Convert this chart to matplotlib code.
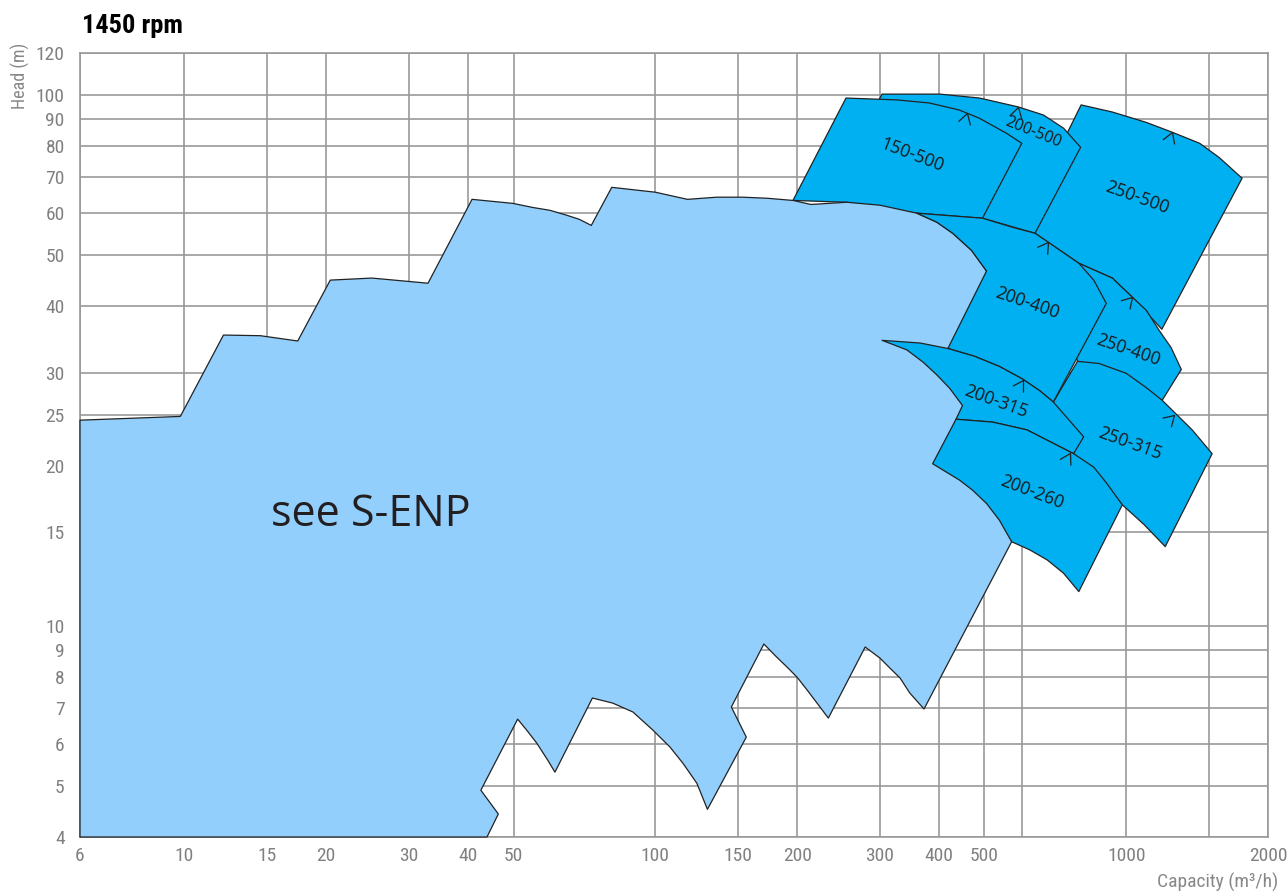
import os
import matplotlib
matplotlib.use('Agg')
import matplotlib.pyplot as plt
from matplotlib import font_manager
from matplotlib.font_manager import FontProperties
from matplotlib.patches import Polygon
from matplotlib.path import Path
from matplotlib.markers import MarkerStyle
from matplotlib.transforms import Affine2D
from matplotlib.ticker import NullLocator

# capacity Q (m3/h) / head H (m) outlines
enp_q = [6, 6, 9.8, 12.1, 14.5, 17.4, 20.4, 25, 32.9, 40.8, 49.8, 54.9, 59.7, 64.7, 69.0, 73.1, 80.8, 100, 117,
         135.1, 153, 172.9, 196, 214, 255, 300, 359, 396, 428, 469, 505,
         571, 372, 347, 331, 315, 300, 279, 233, 220.5, 210, 200, 190.4, 181, 170, 145, 156,
         129, 122.5, 114.4, 107.4, 98.8, 89.6, 81.2, 73.5,
         61.2, 59.1, 56.0, 53.3, 51.0, 42.6, 46.4, 43.9]
enp_h = [4, 24.4, 24.8, 35.3, 35.2, 34.4, 44.8, 45.2, 44.2, 63.6, 62.5, 61.4, 60.65, 59.4, 58.3, 56.8, 67.0, 65.6, 63.6,
         64.2, 64.2, 63.9, 63.3, 62.2, 62.8, 62.0, 59.9, 57.6, 54.9, 51.0, 46.6,
         14.4, 6.97, 7.47, 7.97, 8.32, 8.69, 9.12, 6.70, 7.15, 7.57, 8.0, 8.36, 8.73, 9.24, 7.03, 6.17,
         4.51, 5.05, 5.51, 5.91, 6.36, 6.88, 7.15, 7.31,
         5.30, 5.58, 6.01, 6.36, 6.67, 4.90, 4.42, 4]

q_250_500 = [802, 934, 1103, 1252, 1432, 1574, 1762, 1190, 1030, 934, 793, 640, 724]
h_250_500 = [95.8, 92.9, 88.8, 85.1, 81.1, 76.3, 69.7, 36.2, 41.6, 45.2, 48.2, 54.9, 79.7]

q_200_500 = [303, 402, 488, 589, 667, 736, 800, 640, 495, 235]
h_200_500 = [100.4, 100.4, 98.7, 95.0, 91.7, 86.6, 79.7, 54.9, 58.6, 66.1]

q_150_500 = [196, 254, 326, 382, 442, 488, 557, 600, 495, 359, 255]
h_150_500 = [63.3, 98.7, 97.9, 96.6, 93.7, 90.4, 84.7, 81.1, 58.6, 59.9, 62.8]

q_250_400 = [793, 934, 1030, 1103, 1175, 1246, 1309, 1192, 788, 724]
h_250_400 = [48.2, 45.2, 41.6, 39.3, 36.0, 33.4, 30.4, 26.6, 31.5, 41.0]

q_250_315 = [788, 876, 1000, 1103, 1192, 1380, 1522, 1210, 1092, 981, 773, 700]
h_250_315 = [31.5, 31.2, 29.9, 28.1, 26.6, 23.4, 21.1, 14.1, 15.5, 16.9, 21.1, 26.4]

q_200_400 = [359, 416, 495, 575, 640, 683, 793, 853, 907, 700, 656, 603, 538, 476, 418, 505, 469, 428, 396]
h_200_400 = [59.9, 59.3, 58.6, 56.3, 54.9, 52.8, 48.2, 44.8, 40.5, 26.4, 27.7, 29.15, 30.8, 32.2, 33.3, 46.6, 51.0, 54.9, 57.6]

q_200_315 = [303, 365, 418, 476, 538, 603, 656, 700, 812, 773, 615, 520, 435, 449, 422, 396, 370, 342]
h_200_315 = [34.5, 34.1, 33.3, 32.2, 30.8, 29.15, 27.7, 26.4, 22.7, 21.1, 23.4, 24.2, 24.5, 26.0, 28.0, 29.7, 31.4, 33.1]

q_200_260 = [435, 520, 615, 773, 853, 907, 981, 793, 736, 680, 624, 571, 538, 505, 472, 443, 388]
h_200_260 = [24.5, 24.2, 23.4, 21.1, 19.9, 18.6, 16.9, 11.6, 12.56, 13.3, 13.9, 14.4, 15.8, 17.0, 18.0, 18.8, 20.2]

pump_names = ['150-500', '200-500', '250-500', '200-400', '250-400', '200-315', '250-315', '200-260']
label_q = [352, 633, 1055, 615, 1010, 530, 1020, 630]
label_h = [77.0, 85.1, 64.2, 40.5, 33.1, 26.5, 22.0, 17.85]
label_rot = [-21, -22, -20, -19, -19, -20, -20, -21]

arrow_q = [460, 590, 1252, 683, 1030, 603, 1265, 758]
arrow_h = [92.3, 94.8, 85.1, 52.8, 41.6, 29.1, 25.0, 21.2]
arrow_rot = [-17, -15, -21, -35, -43, -31, -46, -29]

x_ticks = [6, 10, 15, 20, 30, 40, 50, 100, 150, 200, 300, 400, 500, 600, 1000, 1500, 2000]
x_labels = ['6', '10', '15', '20', '30', '40', '50', '100', '150', '200', '300', '400', '500', '', '1000', '', '2000']
y_ticks = [4, 5, 6, 7, 8, 9, 10, 15, 20, 25, 30, 40, 50, 60, 70, 80, 90, 100, 120]

LIGHT = '#93cffd'
DARK = '#00b0f0'
EDGE = '#222222'
GRID = '#999999'


def narrow_font(**kw):
    # a condensed face if one is installed, else a plain one a bit smaller
    names = {f.name for f in font_manager.fontManager.ttflist}
    for fam in ['Liberation Sans Narrow', 'Arial Narrow', 'Roboto Condensed', 'Open Sans Condensed']:
        if fam in names:
            return FontProperties(family=fam, **kw), 1.0
    for fam in ['Noto Sans', 'DejaVu Sans', 'Open Sans', 'Roboto']:
        fp = FontProperties(family=fam, stretch='condensed', **kw)
        try:
            path = font_manager.findfont(fp, fallback_to_default=False)
        except Exception:
            continue
        base = os.path.basename(path).lower()
        if 'cond' in base or 'narrow' in base:
            return fp, 1.0
    return FontProperties(family='Roboto', **kw), 0.9


tick_fp, k = narrow_font()
bold_fp, kb = narrow_font(weight='bold')

fig = plt.figure(figsize=(12.87, 8.92), dpi=100)
ax = fig.add_axes([80 / 1287, 1 - 837 / 892, 1188 / 1287, 784 / 892])
ax.set_xscale('log')
ax.set_yscale('log')
ax.set_xlim(6, 2000)
ax.set_ylim(4, 120)


def add_area(q, h, color, z):
    ax.add_patch(Polygon(list(zip(q, h)), closed=True, facecolor=color, edgecolor=EDGE,
                         linewidth=0.9, joinstyle='round', zorder=z, clip_on=False))


add_area(q_250_500, h_250_500, DARK, 2)
add_area(q_200_500, h_200_500, DARK, 3)
add_area(q_150_500, h_150_500, DARK, 4)
add_area(enp_q, enp_h, LIGHT, 5)
add_area(q_250_400, h_250_400, DARK, 6)
add_area(q_250_315, h_250_315, DARK, 7)
add_area(q_200_400, h_200_400, DARK, 8)
add_area(q_200_315, h_200_315, DARK, 9)
add_area(q_200_260, h_200_260, DARK, 10)

chevron = Path([(-0.6, -1.0), (0, 0), (0.6, -1.0)], [Path.MOVETO, Path.LINETO, Path.LINETO])
for q, h, a in zip(arrow_q, arrow_h, arrow_rot):
    m = MarkerStyle(chevron, fillstyle='none', transform=Affine2D().rotate_deg(a))
    ax.plot([q], [h], marker=m, markersize=15, mec=EDGE, mfc='none', mew=0.9,
            linestyle='none', zorder=11)

for name, q, h, r in zip(pump_names, label_q, label_h, label_rot):
    ax.text(q, h, name, rotation=r, rotation_mode='anchor', ha='center', va='center',
            fontsize=11.3 if name == '200-500' else 12.7, family='Open Sans',
            color='#1a1a1a', zorder=12)

ax.text(24.9, 16.2, 'see S-ENP', ha='center', va='center', fontsize=31,
        family='Open Sans', color='#231f20', zorder=12)

ax.set_xticks(x_ticks, labels=x_labels)
ax.set_yticks(y_ticks, labels=[str(v) for v in y_ticks])
ax.xaxis.set_minor_locator(NullLocator())
ax.yaxis.set_minor_locator(NullLocator())
ax.tick_params(axis='both', length=0, labelcolor='#808080')
ax.tick_params(axis='x', pad=7)
ax.tick_params(axis='y', pad=11)
for lab in ax.get_xticklabels() + ax.get_yticklabels():
    lab.set_fontproperties(tick_fp)
    lab.set_fontsize(14 * k)
ax.grid(True, color=GRID, linewidth=1.2)
ax.set_axisbelow(True)
for s in ax.spines.values():
    s.set_color(GRID)
    s.set_linewidth(1.2)

fig.text(82 / 1287, 1 - 33 / 892, '1450 rpm', fontproperties=bold_fp, fontsize=19 * kb,
         color='black', va='baseline', ha='left')
fig.text(20 / 1287, 1 - 76 / 892, 'Head (m)', rotation=90, fontproperties=tick_fp,
         fontsize=13 * k, color='#888888', ha='center', va='center')
fig.text(1278 / 1287, 1 - 882 / 892, 'Capacity (m³/h)', fontproperties=tick_fp,
         fontsize=14 * k, color='#888888', ha='right', va='center')

fig.savefig('out.png', dpi=100)
